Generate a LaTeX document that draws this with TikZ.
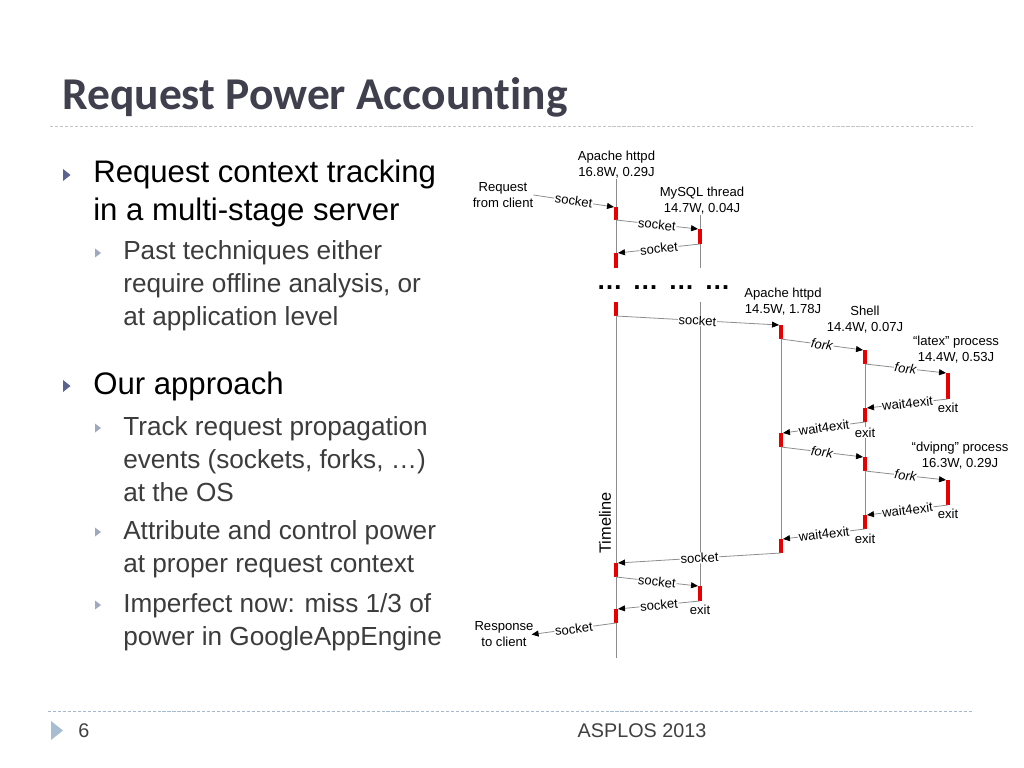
\documentclass[tikz,border=0pt]{standalone}
\usepackage{fontspec}
\setmainfont{Liberation Sans}
\newfontfamily\titlefont[Ligatures=NoCommon]{Carlito}
\usetikzlibrary{arrows.meta}
\definecolor{titlec}{HTML}{3F3F4D}
\definecolor{subtext}{HTML}{3C3C3C}
\definecolor{mainbul}{HTML}{5A6290}
\definecolor{subbul}{HTML}{A0A8BD}
\definecolor{rulec}{HTML}{C4C4C4}
\definecolor{footrule}{HTML}{A6BACB}
\definecolor{foottri}{HTML}{A8BDD1}
\definecolor{foottext}{HTML}{404040}
\definecolor{linegray}{HTML}{8C8C8C}
\definecolor{barred}{HTML}{E80000}
\newcommand\actbar[4]{\node[bar, minimum height={(#4-#3)*0.703125pt}] (#1) at (#2,#3) {};}
\newcommand\mainbullet[1]{\fill[mainbul] (63,#1-14) -- (70.5,#1-8) -- (63,#1-2) -- cycle;}
\newcommand\subbullet[1]{\fill[subbul] (95,#1-11.5) -- (101,#1-7) -- (95,#1-2.5) -- cycle;}
\begin{document}
\begin{tikzpicture}[x=0.703125pt,y=-0.703125pt,
  dfont/.style={font=\fontsize{9.2}{11.25}\selectfont},
  bar/.style={rectangle, fill=barred, draw=none, inner sep=0pt, outer sep=0pt, minimum width=2.8pt, anchor=north},
  lifeline/.style={draw=linegray, line width=0.55pt},
  msg/.style={draw=linegray, line width=0.55pt, -{Triangle[length=4.9pt,width=4.2pt,color=black,fill=black]}},
  lab/.style={dfont, sloped, fill=white, inner sep=0.5pt, pos=0.5},
  proc/.style={dfont, align=center, inner sep=0pt},
  exitlab/.style={dfont, inner sep=0.5pt, fill=white, anchor=north},
  mainline/.style={anchor=base west, inner sep=0pt, font=\fontsize{21.9}{26}\selectfont, text=black},
  subline/.style={anchor=base west, inner sep=0pt, font=\fontsize{18.4}{22}\selectfont, text=subtext},
]
\useasboundingbox[fill=white] (0,0) rectangle (1024,768);

% title
\node[anchor=base west, inner sep=0pt, font=\titlefont\bfseries\fontsize{32}{38}\selectfont, text=titlec] (title) at (62,110) {Request Power Accounting};
\draw[rulec, line width=0.7pt, dash pattern=on 2.2pt off 1.3pt] (50,127) -- (973,127);

% bullets
\mainbullet{183}
\node[mainline] (t1) at (93,183) {Request context tracking};
\node[mainline] (t2) at (93,221) {in a multi-stage server};
\subbullet{260}
\node[subline] (t3) at (123,260) {Past techniques either};
\node[subline] (t4) at (123,292.5) {require offline analysis, or};
\node[subline] (t5) at (123,325) {at application level};
\mainbullet{394}
\node[mainline] (t6) at (93,394) {Our approach};
\subbullet{435}
\node[subline] (t7) at (123,435) {Track request propagation};
\node[subline] (t8) at (123,468) {events (sockets, forks, …)};
\node[subline] (t9) at (123,501) {at the OS};
\subbullet{539}
\node[subline] (t10) at (123,539) {Attribute and control power};
\node[subline] (t11) at (123,572) {at proper request context};
\subbullet{612}
\node[subline] (t12) at (123,612) {Imperfect now: miss 1/3 of};
\node[subline] (t13) at (123,645) {power in GoogleAppEngine};

% footer
\draw[footrule, line width=0.7pt, dash pattern=on 2.2pt off 1.3pt] (48,711) -- (973,711);
\fill[foottri] (51,721) -- (63,730.5) -- (51,740) -- cycle;
\node[anchor=base west, inner sep=0pt, font=\fontsize{13.9}{16}\selectfont, text=foottext] (pg) at (78,737) {6};
\node[anchor=base, inner sep=0pt, font=\fontsize{13.9}{16}\selectfont, text=foottext] (conf) at (642,737) {ASPLOS 2013};

% process labels
\node[proc] (ap1) at (616.5,165) {Apache httpd\\16.8W, 0.29J};
\node[proc] (my) at (702,201) {MySQL thread\\14.7W, 0.04J};
\node[proc] (ap2) at (783,301.5) {Apache httpd\\14.5W, 1.78J};
\node[proc] (sh) at (865,319.5) {Shell\\14.4W, 0.07J};
\node[proc] (lx) at (956,349.5) {“latex” process\\14.4W, 0.53J};
\node[proc] (dv) at (960,456) {“dvipng” process\\16.3W, 0.29J};
\node[proc] (req) at (503,195) {Request\\from client};
\node[proc] (resp) at (504,634.5) {Response\\to client};
\node[font=\fontsize{11.5}{13}\selectfont, rotate=90, inner sep=0pt] (tl) at (605,523) {Timeline};
\node[anchor=base, inner sep=0pt, font=\bfseries\fontsize{18.3}{20}\selectfont] (dots) at (663.5,290) {…\hspace{7pt}…\hspace{7pt}…\hspace{7pt}…};

% activation bars
\actbar{a1}{616}{207}{220}
\actbar{m1}{700}{229}{244}
\actbar{a2}{616}{253}{268}
\actbar{a3}{616}{302}{316}
\actbar{b1}{781}{325}{339}
\actbar{s1}{865}{350}{364}
\actbar{l1}{948}{373}{399}
\actbar{s2}{865}{408}{422}
\actbar{b2}{781}{433}{447}
\actbar{s3}{865}{457}{471}
\actbar{d1}{948}{480}{505}
\actbar{s4}{865}{515}{529}
\actbar{b3}{781}{539}{553}
\actbar{a4}{616}{563}{577}
\actbar{m2}{700}{586}{601}
\actbar{a5}{616}{609}{623}
\coordinate (abot) at (616,658);

% lifelines
\draw[lifeline] (a1.center |- ap1.south) -- (a2.south);
\draw[lifeline] (m1.center |- my.south) -- (m1.center |- a2.south);
\draw[lifeline] (a3.north) -- (abot);
\draw[lifeline] (m1.center |- a3.north) -- (m2.south);
\draw[lifeline] (b1.north) -- (b3.south);
\draw[lifeline] (s1.north) -- (s4.south);
% bars on top of lifelines
\foreach \b in {a1,m1,a2,a3,b1,s1,l1,s2,b2,s3,d1,s4,b3,a4,m2,a5}{\fill[barred] (\b.north west) rectangle (\b.south east);}

% exit labels
\node[exitlab] (e1) at ([yshift=-2pt]l1.south) {exit};
\node[exitlab] (e2) at ([yshift=-3.5pt]s2.south) {exit};
\node[exitlab] (e3) at ([yshift=-2pt]d1.south) {exit};
\node[exitlab] (e4) at ([yshift=-2.5pt]s4.south) {exit};
\node[exitlab] (e5) at ([yshift=-2pt]m2.south) {exit};

% messages
\draw[msg] (req.east) -- node[lab]{socket} (a1.north west);
\draw[msg] (a1.south) -- node[lab]{socket} (m1.north west);
\draw[msg] (m1.south) -- node[lab]{socket} (a2.north east);
\draw[msg] (a3.south) -- node[lab]{socket} (b1.north west);
\draw[msg] (b1.south) -- node[lab]{\itshape fork} (s1.north west);
\draw[msg] (s1.south) -- node[lab]{\itshape fork} (l1.north west);
\draw[msg] (l1.south) -- node[lab]{wait4exit} (s2.north east);
\draw[msg] (s2.south) -- node[lab]{wait4exit} (b2.north east);
\draw[msg] (b2.south) -- node[lab]{\itshape fork} (s3.north west);
\draw[msg] (s3.south) -- node[lab]{\itshape fork} (d1.north west);
\draw[msg] (d1.south) -- node[lab]{wait4exit} (s4.north east);
\draw[msg] (s4.south) -- node[lab]{wait4exit} (b3.north east);
\draw[msg] (b3.south) -- node[lab]{socket} (a4.north east);
\draw[msg] (a4.south) -- node[lab]{socket} (m2.north west);
\draw[msg] (m2.south) -- node[lab]{socket} (a5.north east);
\draw[msg] (a5.south) -- node[lab]{socket} ([xshift=-1.5pt]resp.east);
\end{tikzpicture}
\end{document}
